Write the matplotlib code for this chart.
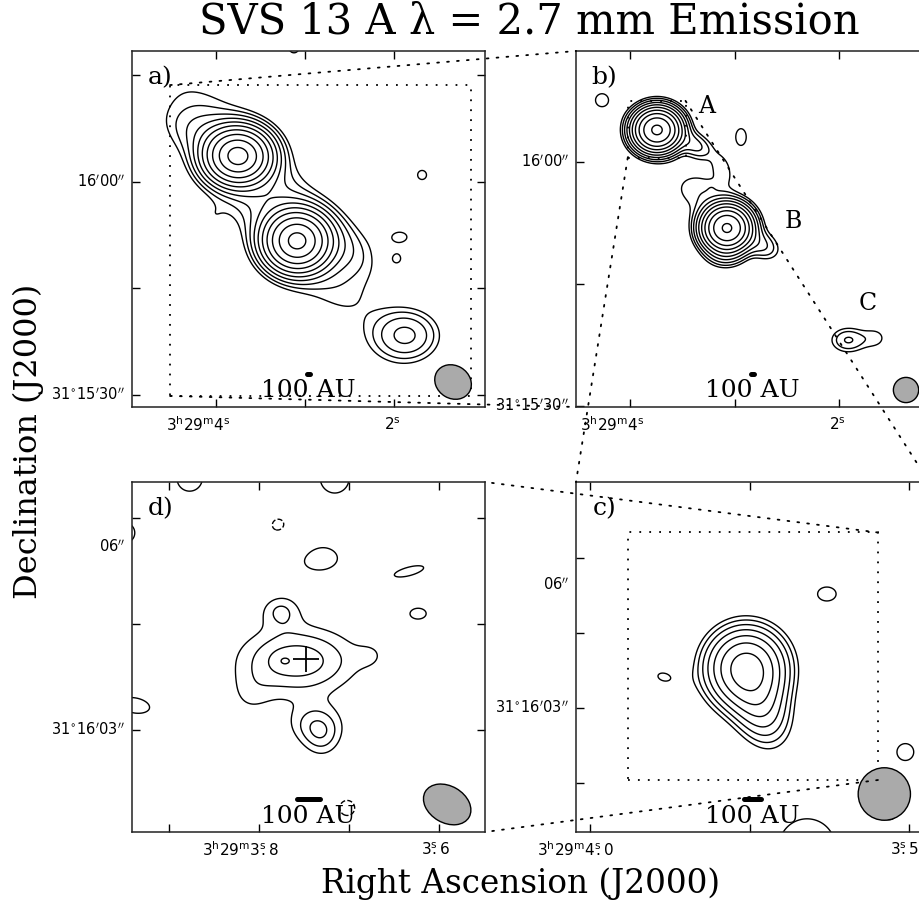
import numpy as np
import matplotlib
matplotlib.use("Agg")
import matplotlib.pyplot as plt
from matplotlib.patches import Ellipse, ConnectionPatch

plt.rcParams['font.family'] = ['DejaVu Serif']
plt.rcParams['mathtext.fontset'] = 'dejavusans'
plt.rcParams['contour.negative_linestyle'] = 'dashed'

# ------------------------------------------------------------------ data
DEC0_DEG = 31.27
COSD = 15.0 * np.cos(np.deg2rad(DEC0_DEG))   # arcsec per second of RA
DIST_PC = 300.0                               # for the 100 AU bar

# panel extents: RA seconds after 3h29m, Dec arcsec after 31d15'00"
a_ra_lim, a_dec_lim = [4.944, 0.978], [28.31, 78.45]
b_ra_lim, b_dec_lim = [4.517, 1.139], [29.87, 73.65]
c_ra_lim, c_dec_lim = [4.022, 3.469], [60.52, 67.52]
d_ra_lim, d_dec_lim = [3.941, 3.549], [61.56, 66.51]

# emission components: RA (s), Dec ("), peak (rms units), FWHM major/minor ("), visual angle (deg)
a_ra   = [3.753, 3.090, 1.870, 3.393, 4.124, 2.550, 1.685, 4.045, 1.933, 1.966, 3.124]
a_dec  = [63.66, 51.69, 38.40, 57.46, 66.60, 51.10, 60.99, 55.07, 52.25, 49.15, 78.90]
a_peak = [160.0, 155.0, 12.0, 9.0, 4.5, 4.5, 3.4, 2.0, 3.4, 3.1, 3.5]
a_fmaj = [6.0, 6.0, 6.8, 30.0, 9.0, 8.0, 3.0, 3.5, 4.5, 2.0, 3.0]
a_fmin = [5.0, 5.4, 5.2, 8.5, 5.0, 5.0, 3.0, 3.5, 3.0, 2.0, 3.0]
a_pa   = [0, 0, 0, -50, -20, -40, 0, 0, 0, 0, 0]
a_levels = [3, 4.65, 7.21, 11.2, 17.3, 26.8, 41.6, 64.5, 100, 145]

b_ra   = [3.742, 3.378, 3.072, 2.737, 3.091, 3.330, 3.215, 3.120, 1.914, 1.655, 4.268, 2.938]
b_dec  = [63.94, 62.09, 51.88, 49.79, 48.56, 56.30, 56.92, 59.26, 38.10, 38.35, 67.60, 63.07]
b_peak = [225.0, 9.0, 220.0, 8.0, 6.0, 4.3, 0.9, 4.0, 8.0, 3.6, 3.6, 3.6]
b_fmaj = [3.6, 3.5, 3.7, 3.5, 3.5, 6.5, 1.2, 3.5, 3.3, 3.0, 3.1, 4.0]
b_fmin = [3.3, 2.2, 3.5, 2.5, 2.5, 4.5, 1.2, 2.0, 2.4, 2.6, 3.1, 2.5]
b_pa   = [0, -30, 0, -30, 0, -20, 0, -70, 0, 0, 0, 90]
b_levels = [3, 4.8, 7.68, 12.3, 19.7, 31.5, 50.3, 80.5, 129, 206]

c_ra   = [3.7555, 3.734, 3.629, 3.885, 3.506, 3.660, 3.530]
c_dec  = [63.80, 63.06, 65.28, 63.62, 62.12, 60.22, 60.92]
c_peak = [44.0, 14.0, 3.3, 3.15, 3.3, 4.0, 3.3]
c_fmaj = [1.06, 1.2, 1.0, 0.8, 0.9, 1.75, 0.6]
c_fmin = [1.06, 0.8, 0.75, 0.5, 0.9, 1.75, 0.6]
c_pa   = [0, -70, 0, -15, 0, 0, 0]
c_levels = [3, 4.56, 6.93, 10.5, 16.0, 24.3, 37.0]

d_ra   = [3.757, 3.774, 3.737, 3.730, 3.674, 3.776, 3.734, 3.632, 3.623, 3.811, 3.777, 3.949, 3.938, 3.702, 3.877, 3.716]
d_dec  = [63.98, 63.98, 63.08, 62.83, 64.06, 64.70, 65.43, 65.25, 64.65, 63.43, 65.87, 65.79, 63.35, 61.90, 66.56, 66.56]
d_peak = [7.0, 0.92, 4.6, 3.0, 1.6, 3.8, 3.6, 3.3, 3.3, 1.9, -3.6, 3.5, 3.5, -3.4, 3.6, 3.6]
d_fmaj = [1.54, 0.25, 0.7, 0.5, 0.4, 0.5, 1.04, 1.04, 0.57, 0.6, 0.6, 0.6, 0.9, 0.5, 0.7, 0.8]
d_fmin = [0.89, 0.2, 0.5, 0.5, 0.35, 0.4, 0.64, 0.3, 0.38, 0.6, 0.6, 0.6, 0.45, 0.5, 0.7, 0.8]
d_pa   = [0, 0, 0, 0, 5, 0, 0, 15, 0, 0, 0, 0, -10, 0, 0, 0]
d_levels = [-3, 3, 4.5, 6, 7.5]

# synthesized beams: RA (s), Dec ("), FWHM major/minor ("), visual angle
beam_ra   = [1.337, 1.359, 3.539, 3.591]
beam_dec  = [31.83, 31.96, 61.28, 61.95]
beam_maj  = [5.47, 3.1, 1.05, 0.72]
beam_min  = [4.65, 3.1, 1.05, 0.52]
beam_pa   = [-30, 0, 0, -30]

# axis ticks (RA s / Dec ") and their labels
a_xticks, a_xlabels = [4.0, 3.0, 2.0], [r'$3^{\rm h}29^{\rm m}4^{\rm s}$', '', r'$2^{\rm s}$']
b_xticks, b_xlabels = [4.0, 3.0, 2.0], [r'$3^{\rm h}29^{\rm m}4^{\rm s}$', '', r'$2^{\rm s}$']
c_xticks, c_xlabels = [4.0, 3.75, 3.5], [r'$3^{\rm h}29^{\rm m}4^{\rm s}\!\!.0$', '', r'$3^{\rm s}\!\!.5$']
d_xticks, d_xlabels = [3.9, 3.8, 3.7, 3.6], ['', r'$3^{\rm h}29^{\rm m}3^{\rm s}\!\!.8$', '', r'$3^{\rm s}\!\!.6$']
a_yticks = [75, 60, 45, 30]
b_yticks = [60, 45, 30]
c_yticks = [66, 64.5, 63, 61.5]
d_yticks = [66, 64.5, 63]
a_ylabels = [r"$16'00''$", r"$31^{\circ}15'30''$"]
b_ylabels = [r"$16'00''$", r"$31^{\circ}15'30''$"]
c_ylabels = [r"$06''$", r"$31^{\circ}16'03''$"]
d_ylabels = [r"$06''$", r"$31^{\circ}16'03''$"]

# ------------------------------------------------------------------ layout
W, H = 920, 905
fig = plt.figure(figsize=(W / 100, H / 100), dpi=100)
fig.patch.set_facecolor('white')

def add_ax(x0, y0, x1, y1):
    return fig.add_axes([x0 / W, 1 - y1 / H, (x1 - x0) / W, (y1 - y0) / H])

axa = add_ax(132, 51, 485, 407)
axb = add_ax(576, 51, 929, 407)
axd = add_ax(132, 482, 485, 832)
axc = add_ax(576, 482, 929, 832)

XFS, YFS = 11, 10.5

def field(X, Y, ra, dec, peak, fmaj, fmin, pa):
    Z = np.zeros_like(X)
    for r0, d0, p, fa, fb, th in zip(ra, dec, peak, fmaj, fmin, pa):
        dxv = -(X - r0 * COSD)
        dyv = Y - d0
        t = np.deg2rad(th)
        u = dxv * np.cos(t) + dyv * np.sin(t)
        v = -dxv * np.sin(t) + dyv * np.cos(t)
        sa, sb = fa / 2.3548, fb / 2.3548
        Z += p * np.exp(-0.5 * ((u / sa) ** 2 + (v / sb) ** 2))
    return Z

def draw_panel(ax, ra_lim, dec_lim, comps, levels, beam_i, xt, xl, xdx, yt, ylab, ylab_pos, letter):
    x0, x1 = ra_lim[0] * COSD, ra_lim[1] * COSD
    padx = 0.15 * abs(x0 - x1)
    pady = 0.15 * (dec_lim[1] - dec_lim[0])
    xs = np.linspace(max(x0, x1) + padx, min(x0, x1) - padx, 500)
    ys = np.linspace(dec_lim[0] - pady, dec_lim[1] + pady, 500)
    X, Y = np.meshgrid(xs, ys)
    Z = field(X, Y, *comps)
    ax.contour(X, Y, Z, levels=levels, colors='k', linewidths=1.0, zorder=2)
    ax.set_xlim(x0, x1)
    ax.set_ylim(dec_lim[0], dec_lim[1])
    ax.set_xticks([t * COSD for t in xt])
    ax.set_yticks(yt)
    ax.tick_params(direction='in', length=6, width=1, top=True, right=True,
                   labelbottom=False, labelleft=False)
    for s in ax.spines.values():
        s.set_linewidth(1.1)
        s.set_color('#222222')
    for t, s, dx in zip(xt, xl, xdx):
        if s:
            ax.annotate(s, xy=(t * COSD, 0), xycoords=('data', 'axes fraction'),
                        xytext=(dx, -18), textcoords='offset pixels', ha='center', va='center',
                        fontsize=XFS, annotation_clip=False)
    for s, yv in zip(ylab, ylab_pos):
        ax.annotate(s, xy=(0, yv), xycoords=('axes fraction', 'data'),
                    xytext=(-7, 0), textcoords='offset pixels', ha='right', va='center',
                    fontsize=YFS, annotation_clip=False)
    # beam
    e = Ellipse((beam_ra[beam_i] * COSD, beam_dec[beam_i]), beam_maj[beam_i], beam_min[beam_i],
                angle=-beam_pa[beam_i], facecolor='#aaaaaa', edgecolor='k', lw=1.0, zorder=5)
    ax.add_patch(e)
    # 100 AU bar
    L = 100.0 / DIST_PC
    xc = 0.5 * (x0 + x1)
    yb = dec_lim[0] + 0.093 * (dec_lim[1] - dec_lim[0])
    ax.plot([xc - L / 2, xc + L / 2], [yb, yb], color='k', lw=3.6, solid_capstyle='round', zorder=6)
    ax.text(0.5, 0.045, '100 AU', transform=ax.transAxes, ha='center', va='center',
            fontsize=18, zorder=6)
    ax.text(0.08, 0.925, letter, transform=ax.transAxes, ha='center', va='center', fontsize=18, zorder=6)

draw_panel(axa, a_ra_lim, a_dec_lim, (a_ra, a_dec, a_peak, a_fmaj, a_fmin, a_pa), a_levels, 0,
           a_xticks, a_xlabels, [-18, 0, -2], a_yticks, a_ylabels, [60, 30], 'a)')
draw_panel(axb, b_ra_lim, b_dec_lim, (b_ra, b_dec, b_peak, b_fmaj, b_fmin, b_pa), b_levels, 1,
           b_xticks, b_xlabels, [-18, 0, -2], b_yticks, b_ylabels, [60, 30], 'b)')
draw_panel(axc, c_ra_lim, c_dec_lim, (c_ra, c_dec, c_peak, c_fmaj, c_fmin, c_pa), c_levels, 2,
           c_xticks, c_xlabels, [-15, 0, -5], c_yticks, c_ylabels, [65.46, 63], 'c)')
draw_panel(axd, d_ra_lim, d_dec_lim, (d_ra, d_dec, d_peak, d_fmaj, d_fmin, d_pa), d_levels, 3,
           d_xticks, d_xlabels, [0, -19, 0, -3], d_yticks, d_ylabels, [65.59, 63], 'd)')

# source names in panel b
for name, px, py in zip(['A', 'B', 'C'], [0.371, 0.615, 0.827], [0.843, 0.52, 0.292]):
    axb.text(px, py, name, transform=axb.transAxes, ha='center', va='center', fontsize=17)

# position cross in panel d
axd.plot([3.748 * COSD], [64.0], marker='+', markersize=19, mew=1.3, color='k', zorder=6)

# zoom boxes and connecting dotted lines
DOT = (0, (1, 4.5))
def box(ax, ra_lim, dec_lim):
    xs = [ra_lim[0], ra_lim[1], ra_lim[1], ra_lim[0], ra_lim[0]]
    ys = [dec_lim[0], dec_lim[0], dec_lim[1], dec_lim[1], dec_lim[0]]
    ax.plot([x * COSD for x in xs], ys, color='k', lw=1.3, ls=DOT, zorder=3)

box(axa, b_ra_lim, b_dec_lim)
box(axb, c_ra_lim, c_dec_lim)
box(axc, d_ra_lim, d_dec_lim)

def connect(axA, xyA, axB, xyB):
    con = ConnectionPatch(xyA=xyA, coordsA='data', axesA=axA, xyB=xyB, coordsB='axes fraction',
                          axesB=axB, color='k', lw=1.3, ls=DOT)
    fig.add_artist(con)

connect(axa, (b_ra_lim[0] * COSD, b_dec_lim[1]), axb, (0, 1))
connect(axa, (b_ra_lim[0] * COSD, b_dec_lim[0]), axb, (0, 0))
connect(axb, (c_ra_lim[0] * COSD, c_dec_lim[0]), axc, (0, 1))
connect(axb, (c_ra_lim[1] * COSD, c_dec_lim[1]), axc, (1, 1))
connect(axc, (d_ra_lim[1] * COSD, d_dec_lim[1]), axd, (1, 1))
connect(axc, (d_ra_lim[1] * COSD, d_dec_lim[0]), axd, (1, 0))

# titles
fig.text(529 / W, 1 - 21 / H, 'SVS 13 A λ = 2.7 mm Emission', ha='center', va='center', fontsize=30)
fig.text(521 / W, 1 - 884 / H, 'Right Ascension (J2000)', ha='center', va='center', fontsize=23.5)
fig.text(28 / W, 1 - 441 / H, 'Declination (J2000)', ha='center', va='center', fontsize=23,
         rotation=90)

fig.savefig('out.png', dpi=100, facecolor='white')
